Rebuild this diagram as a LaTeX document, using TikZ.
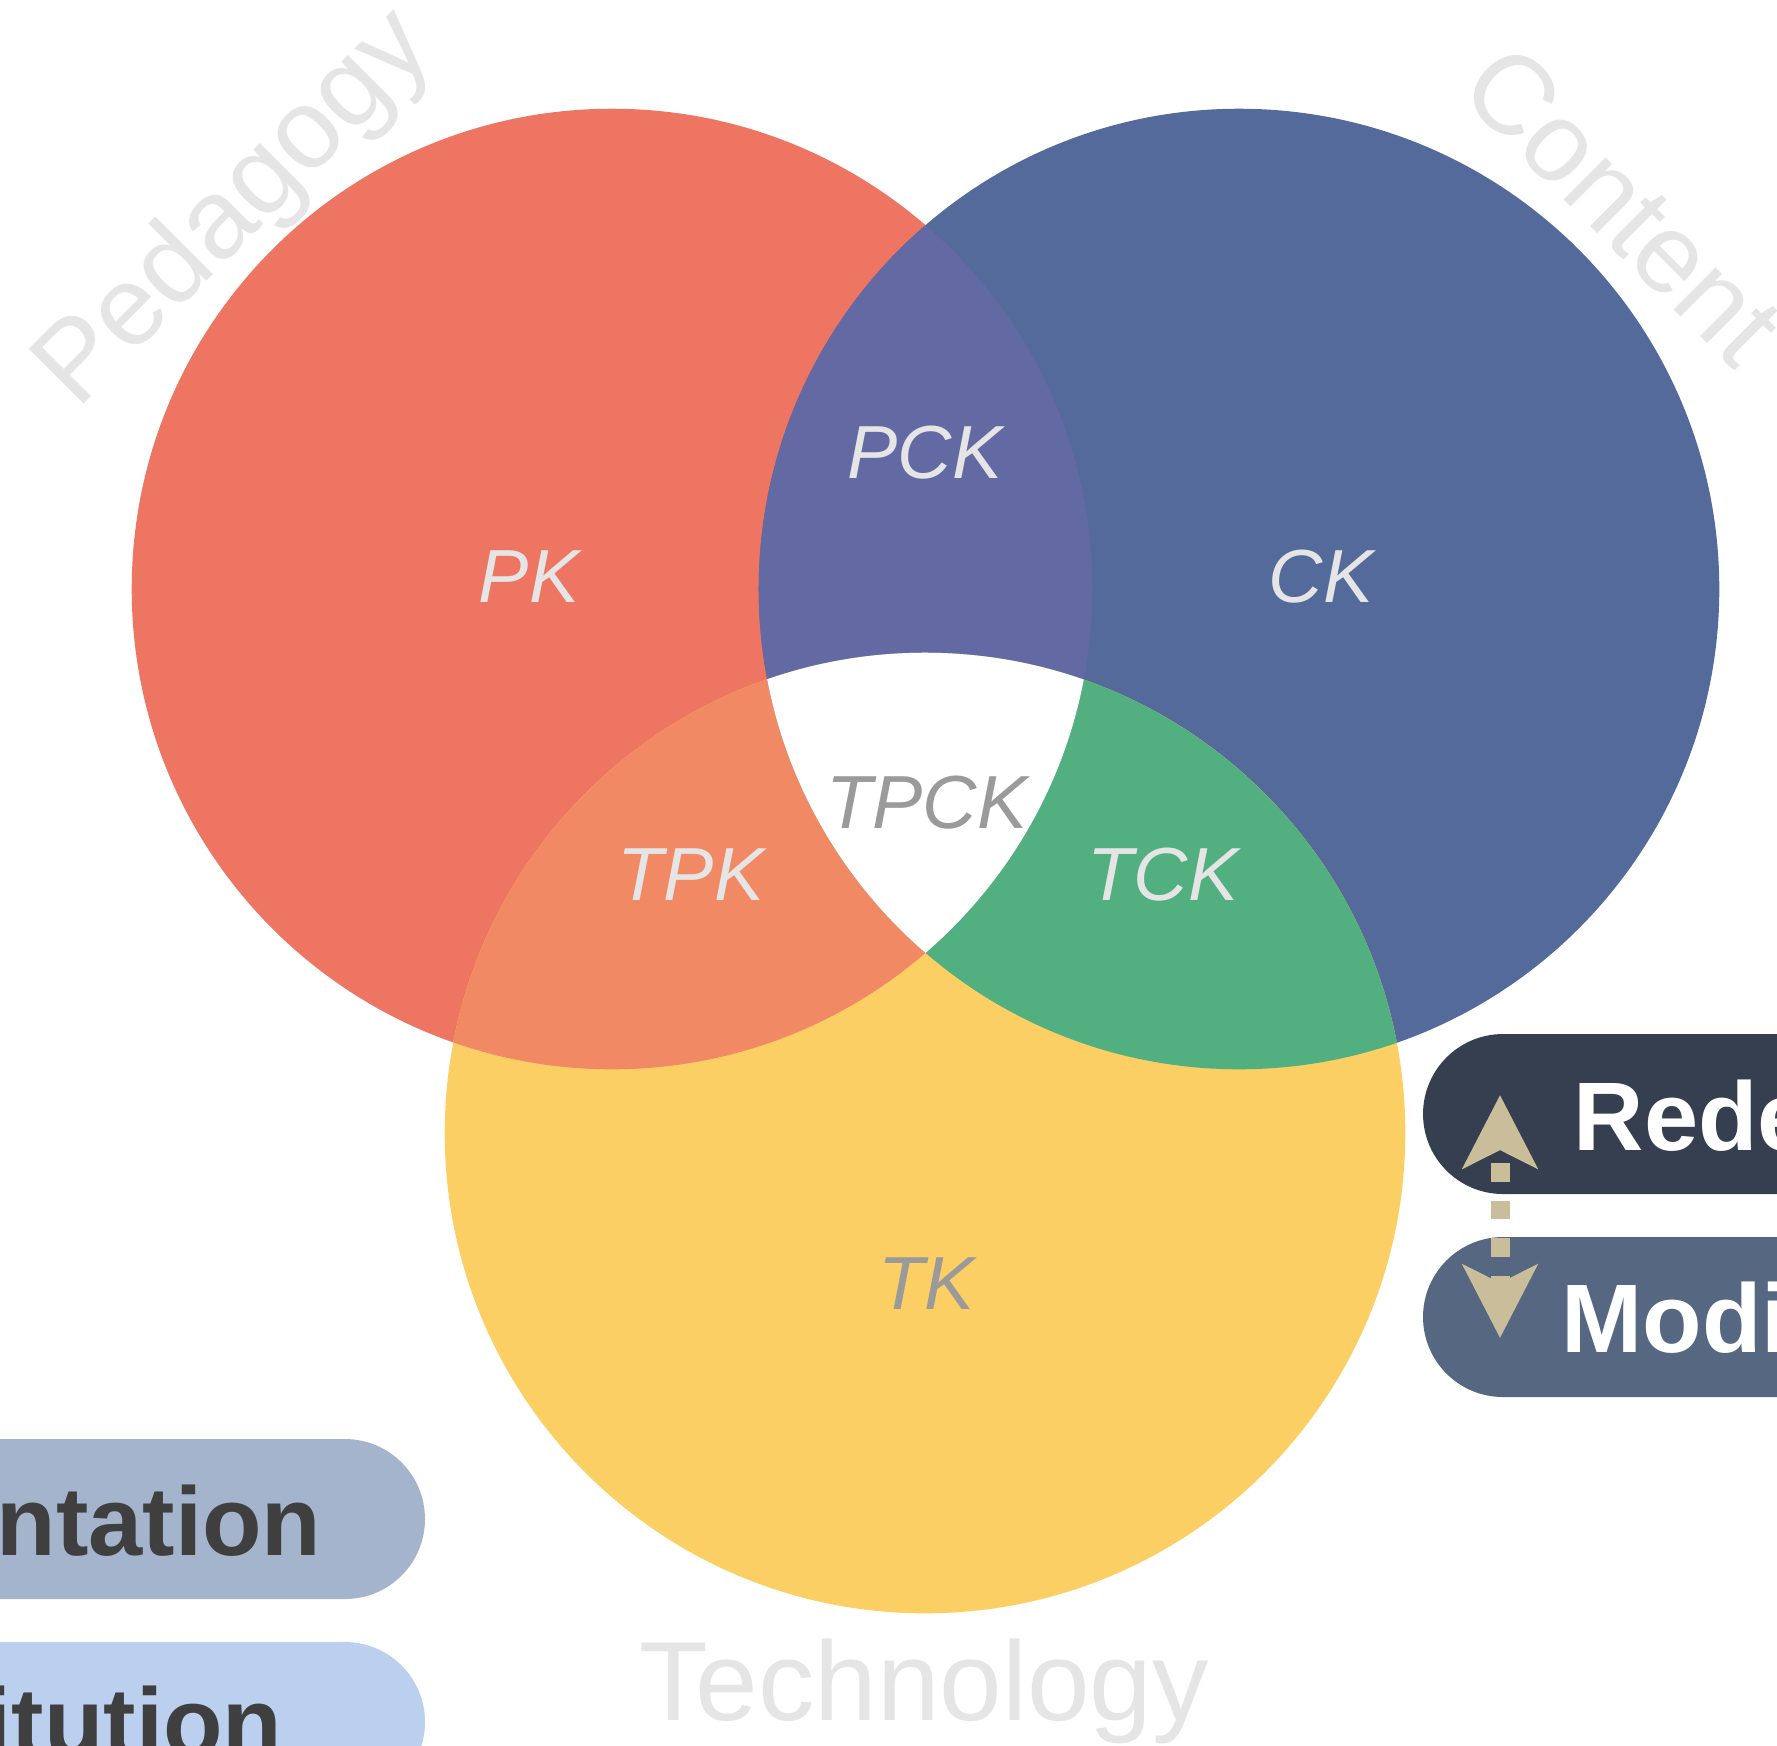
\documentclass[tikz,border=0pt]{standalone}
\usepackage{fontspec}
\setmainfont{Liberation Sans}
\usetikzlibrary{arrows.meta}
\definecolor{cRed}{HTML}{EE7562}
\definecolor{cBlue}{HTML}{546A9A}
\definecolor{cYellow}{HTML}{FBCF63}
\definecolor{cPurple}{HTML}{636AA3}
\definecolor{cOrange}{HTML}{F18A64}
\definecolor{cGreen}{HTML}{52AF7F}
\definecolor{cLight}{HTML}{E5E5E5}
\definecolor{cGray}{HTML}{9A9A9A}
\definecolor{cRede}{HTML}{363F4F}
\definecolor{cModi}{HTML}{566781}
\definecolor{cAug}{HTML}{A3B4CC}
\definecolor{cSub}{HTML}{BBCFEE}
\definecolor{cArrow}{HTML}{C9BD9A}
\definecolor{cDark}{HTML}{3F3F3F}
\begin{document}
\begin{tikzpicture}[x=0.01cm,y=-0.01cm,
  lbl/.style={font=\fontsize{21.4}{24}\selectfont\itshape, text=cLight, inner sep=0pt, anchor=base},
  graylbl/.style={lbl, text=cGray},
  domainlbl/.style={font=\fontsize{32}{36}\selectfont, text=cLight, inner sep=0pt},
  pilltext/.style={font=\fontsize{27.7}{30}\selectfont\bfseries, inner sep=0pt},
  samr/.style={draw=cArrow, line width=0.19cm, line cap=butt,
    dash pattern=on 0.185cm off 0.19cm, dash phase=0.07cm,
    {Stealth[length=0.73cm, width=0.74cm, inset=0.18cm, fill=cArrow]}-{Stealth[length=0.73cm, width=0.74cm, inset=0.18cm, fill=cArrow]}}
]
\useasboundingbox (0,0) rectangle (1777,1745);
\clip (0,0) rectangle (1777,1745);
\fill[white] (0,0) rectangle (1777,1745);
% circles
\fill[cRed] (612,589) circle[radius=4.8cm];
\fill[cBlue] (1239,589) circle[radius=4.8cm];
\fill[cYellow] (925,1133) circle[radius=4.8cm];
% pairwise overlaps
\begin{scope}
  \clip (612,589) circle[radius=4.8cm];
  \fill[cPurple] (1239,589) circle[radius=4.8cm];
  \fill[cOrange] (925,1133) circle[radius=4.8cm];
\end{scope}
\begin{scope}
  \clip (1239,589) circle[radius=4.8cm];
  \fill[cGreen] (925,1133) circle[radius=4.8cm];
\end{scope}
\begin{scope}
  \clip (612,589) circle[radius=4.8cm];
  \clip (1239,589) circle[radius=4.8cm];
  \fill[white] (925,1133) circle[radius=4.8cm];
\end{scope}
% region labels
\node[lbl] (pk) at (529,602) {PK};
\node[lbl] (pck) at (925,478) {PCK};
\node[lbl] (ck) at (1321,602) {CK};
\node[graylbl] (tpck) at (927,828) {TPCK};
\node[lbl] (tpk) at (691,900) {TPK};
\node[lbl] (tck) at (1163,900) {TCK};
\node[graylbl] (tk) at (927,1309) {TK};
% domain labels
\node[domainlbl, anchor=base west, rotate=45] (ped) at (77,411) {Pedagogy};
\node[domainlbl, anchor=base west, rotate=-45] (con) at (1456,92) {Content};
\node[domainlbl, anchor=base] (tech) at (924,1720) {Technology};
% SAMR pills
\fill[cRede, rounded corners=0.8cm] (1423,1034) rectangle (2300,1194);
\fill[cModi, rounded corners=0.8cm] (1423,1237) rectangle (2300,1397);
\fill[cAug, rounded corners=0.8cm] (-600,1439) rectangle (425,1599);
\fill[cSub, rounded corners=0.8cm] (-600,1642) rectangle (425,1802);
\node[pilltext, text=white, anchor=base west] (rede) at (1573,1150) {Redefinition};
\node[pilltext, text=white, anchor=base west] (modi) at (1561,1352) {Modification};
\node[pilltext, text=cDark, anchor=base east] (aug) at (322,1555) {Augmentation};
\node[pilltext, text=cDark, anchor=base east] (sub) at (283,1756) {Substitution};
% arrow between Redefinition and Modification
\coordinate (uptip) at (1500,1095);
\coordinate (downtip) at (1500,1338);
\draw[samr] (downtip) -- (uptip);
\end{tikzpicture}
\end{document}
